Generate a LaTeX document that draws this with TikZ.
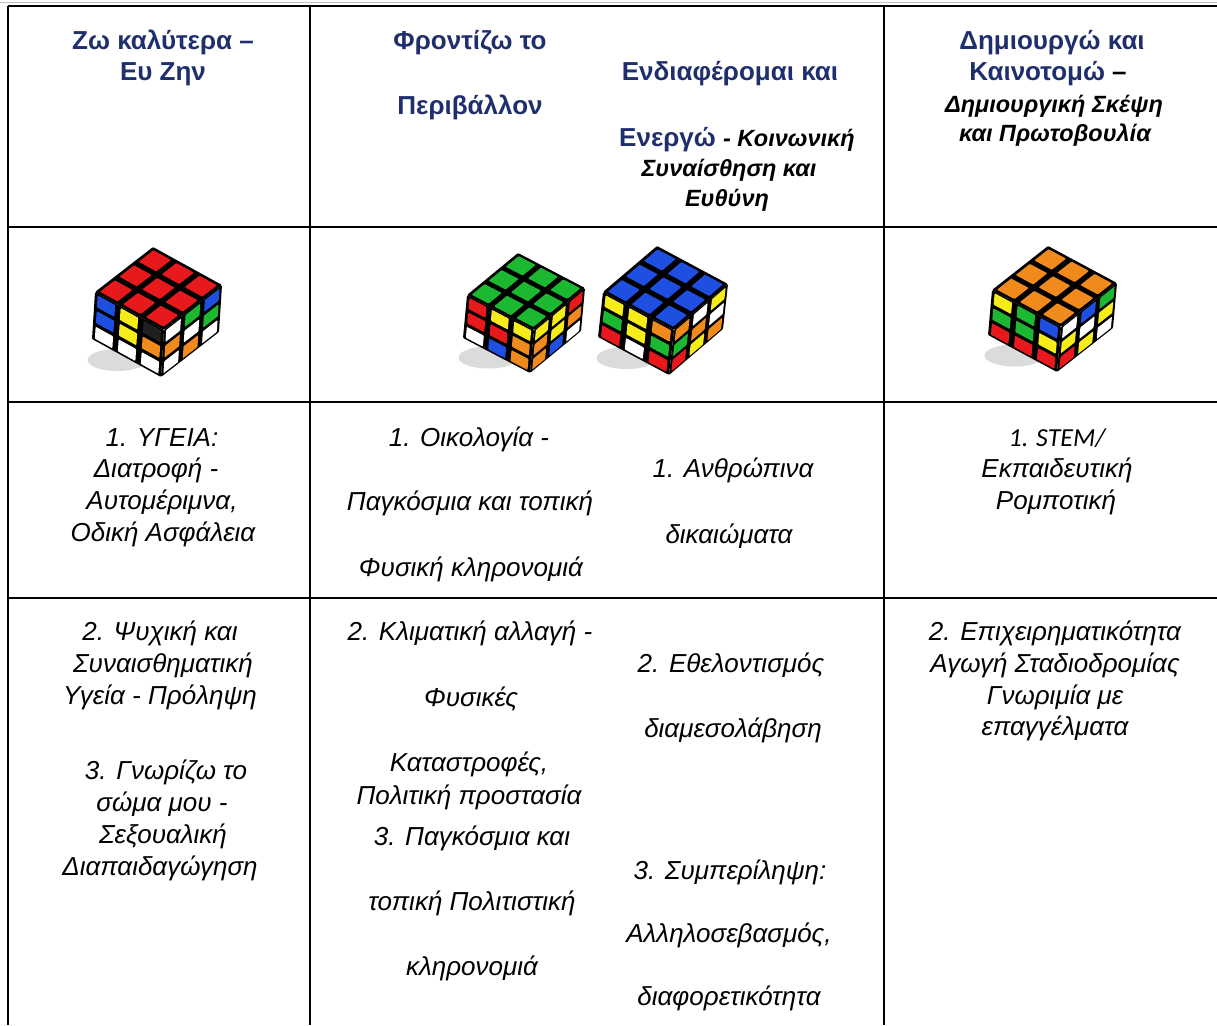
\documentclass[tikz,border=0pt]{standalone}
\usepackage{fontspec}
\setmainfont{Liberation Sans}
\newfontfamily\calib{Carlito}
\definecolor{hblue}{HTML}{1F2F6E}
\definecolor{cR}{HTML}{E8191C}
\definecolor{cG}{HTML}{1DB832}
\definecolor{cB}{HTML}{1E4FE0}
\definecolor{cO}{HTML}{F08A1C}
\definecolor{cY}{HTML}{F5EC1A}
\definecolor{cW}{HTML}{FFFFFF}
\definecolor{cK}{HTML}{202020}
% one face of a cube: origin x, origin y, A vector (x,y), B vector (x,y), colour list macro
\newcommand\stkface[7]{%
  \fill[black,rounded corners=1pt] ({#1},{#2}) -- ({#1+3*(#3)},{#2+3*(#4)}) -- ({#1+3*(#3)+3*(#5)},{#2+3*(#4)+3*(#6)}) -- ({#1+3*(#5)},{#2+3*(#6)}) -- cycle;
  \foreach \c [count=\n from 0] in #7 {
    \pgfmathtruncatemacro\ii{mod(\n,3)}
    \pgfmathtruncatemacro\jj{div(\n,3)}
    \fill[\c,rounded corners=0.8pt]
      ({#1+(\ii+.12)*(#3)+(\jj+.12)*(#5)},{#2+(\ii+.12)*(#4)+(\jj+.12)*(#6)}) --
      ({#1+(\ii+.88)*(#3)+(\jj+.12)*(#5)},{#2+(\ii+.88)*(#4)+(\jj+.12)*(#6)}) --
      ({#1+(\ii+.88)*(#3)+(\jj+.88)*(#5)},{#2+(\ii+.88)*(#4)+(\jj+.88)*(#6)}) --
      ({#1+(\ii+.12)*(#3)+(\jj+.88)*(#5)},{#2+(\ii+.12)*(#4)+(\jj+.88)*(#6)}) -- cycle;
  }}
% a cube: top vertex (x,y), u = top to left, v = top to right, w = downward edge
\newcommand\rubik[8]{%
  \fill[gray!28] ({#1+(#3)+0.5*(#5)-12},{#2+(#4)+0.5*(#6)+(#8)+2}) ellipse [x radius=30pt, y radius=11pt];
  \stkface{#1+(#3)}{#2+(#4)}{(#5)/3}{(#6)/3}{(#7)/3}{(#8)/3}{\leftc}
  \stkface{#1+(#3)+(#5)}{#2+(#4)+(#6)}{-(#3)/3}{-(#4)/3}{(#7)/3}{(#8)/3}{\rightc}
  \stkface{#1}{#2}{(#3)/3}{(#4)/3}{(#5)/3}{(#6)/3}{\topc}
}
\begin{document}
\begin{tikzpicture}[x=1pt,y=-1pt,
  gridline/.style={line width=2.4pt,black},
  hd/.style={font=\fontsize{26}{30}\selectfont\bfseries,text=hblue,anchor=base,inner sep=0pt},
  hdi/.style={font=\fontsize{23.5}{27}\selectfont\bfseries\itshape,text=black,anchor=base,inner sep=0pt},
  bd/.style={font=\fontsize{26}{30}\selectfont\itshape,text=black,anchor=base,inner sep=0pt}]
\useasboundingbox (0,0) rectangle (1217,1025);
\fill[white] (0,0) rectangle (1217,1025);
% grid
\coordinate (tl) at (8,6);
\coordinate (tr) at (1217,6);
\coordinate (bl) at (8,1025);
\coordinate (c1t) at (310,6);
\coordinate (c1b) at (310,1025);
\coordinate (c2t) at (884,6);
\coordinate (c2b) at (884,1025);
\coordinate (r1l) at (8,227);
\coordinate (r1r) at (1217,227);
\coordinate (r2l) at (8,402);
\coordinate (r2r) at (1217,402);
\coordinate (r3l) at (8,598);
\coordinate (r3r) at (1217,598);
\draw[gray!50,line width=1pt] (0,3) -- (1217,3);
\draw[gridline] (tl) -- (tr);
\draw[gridline] (tl) -- (bl);
\draw[gridline] (c1t) -- (c1b);
\draw[gridline] (c2t) -- (c2b);
\draw[gridline] (r1l) -- (r1r);
\draw[gridline] (r2l) -- (r2r);
\draw[gridline] (r3l) -- (r3r);
% header row
\node[hd] (h1a) at (163,49) {Ζω καλύτερα –};
\node[hd] (h1b) at (163,80) {Ευ Ζην};
\node[hd] (h2a) at (470,49) {Φροντίζω το};
\node[hd] (h2b) at (470,114) {Περιβάλλον};
\node[hd] (h3a) at (730,80) {Ενδιαφέρομαι και};
\node[hd] (h3b) at (737,146) {Ενεργώ {\color{black}\fontsize{23.5}{27}\selectfont\itshape - Κοινωνική}};
\node[hdi] (h3c) at (729,176) {Συναίσθηση και};
\node[hdi] (h3d) at (727,206) {Ευθύνη};
\node[hd] (h4a) at (1052,49) {Δημιουργώ και};
\node[hd] (h4b) at (1048,81) {Καινοτομώ {\color{black}–}};
\node[hdi] (h4c) at (1054,112) {Δημιουργική Σκέψη};
\node[hdi] (h4d) at (1055,141) {και Πρωτοβουλία};
% cubes
\def\topc{cR,cR,cR,cR,cR,cR,cR,cR,cR}
\def\leftc{cB,cY,cK,cB,cY,cO,cW,cW,cW}
\def\rightc{cW,cG,cB,cO,cW,cG,cW,cO,cW}
\rubik{153}{247}{-58}{45}{69}{38}{-3}{47}
\def\topc{cG,cG,cG,cG,cG,cG,cG,cG,cG}
\def\leftc{cR,cY,cY,cR,cR,cO,cW,cB,cO}
\def\rightc{cY,cY,cR,cO,cY,cO,cO,cB,cW}
\rubik{518}{253}{-51}{42}{67}{35}{-4}{43}
\def\topc{cB,cB,cB,cB,cB,cB,cB,cB,cB}
\def\leftc{cY,cY,cO,cG,cY,cG,cR,cW,cR}
\def\rightc{cO,cW,cY,cG,cO,cW,cR,cY,cO}
\rubik{657}{246}{-54}{46}{71}{38}{-5}{45}
\def\topc{cO,cO,cO,cO,cO,cO,cO,cO,cO}
\def\leftc{cY,cG,cB,cG,cG,cY,cR,cR,cR}
\def\rightc{cW,cB,cG,cY,cW,cY,cR,cY,cW}
\rubik{1048}{246}{-56}{44}{69}{37}{-4}{45}
% row 3
\node[bd] (a1) at (162,446) {1. ΥΓΕΙΑ:};
\node[bd] (a2) at (156,477) {Διατροφή -};
\node[bd] (a3) at (162,509) {Αυτομέριμνα,};
\node[bd] (a4) at (163,541) {Οδική Ασφάλεια};
\node[bd] (b1) at (469,446) {1. Οικολογία -};
\node[bd] (b2) at (470,510) {Παγκόσμια και τοπική};
\node[bd] (b3) at (471,576) {Φυσική κληρονομιά};
\node[bd] (c1) at (733,477) {1. Ανθρώπινα};
\node[bd] (c2) at (729,543) {δικαιώματα};
\node[bd] (d1) at (1057,446) {{\calib 1. STEM/}};
\node[bd] (d2) at (1057,477) {Εκπαιδευτική};
\node[bd] (d3) at (1056,509) {Ρομποτική};
% row 4
\node[bd] (e1) at (160,640) {2. Ψυχική και};
\node[bd] (e2) at (163,672) {Συναισθηματική};
\node[bd] (e3) at (160,704) {Υγεία - Πρόληψη};
\node[bd] (e4) at (166,779) {3. Γνωρίζω το};
\node[bd] (e5) at (162,811) {σώμα μου -};
\node[bd] (e6) at (163,843) {Σεξουαλική};
\node[bd] (e7) at (160,875) {Διαπαιδαγώγηση};
\node[bd] (f1) at (470,640) {2. Κλιματική αλλαγή -};
\node[bd] (f2) at (471,706) {Φυσικές};
\node[bd] (f3) at (469,771) {Καταστροφές,};
\node[bd] (f4) at (469,804) {Πολιτική προστασία};
\node[bd] (f5) at (472,845) {3. Παγκόσμια και};
\node[bd] (f6) at (472,910) {τοπική Πολιτιστική};
\node[bd] (f7) at (472,975) {κληρονομιά};
\node[bd] (g1) at (731,672) {2. Εθελοντισμός};
\node[bd] (g2) at (733,737) {διαμεσολάβηση};
\node[bd] (g3) at (730,879) {3. Συμπερίληψη:};
\node[bd] (g4) at (729,942) {Αλληλοσεβασμός,};
\node[bd] (g5) at (729,1005) {διαφορετικότητα};
\node[bd] (k1) at (1055,640) {2. Επιχειρηματικότητα};
\node[bd] (k2) at (1055,672) {Αγωγή Σταδιοδρομίας};
\node[bd] (k3) at (1055,704) {Γνωριμία με};
\node[bd] (k4) at (1055,735) {επαγγέλματα};
\end{tikzpicture}
\end{document}
